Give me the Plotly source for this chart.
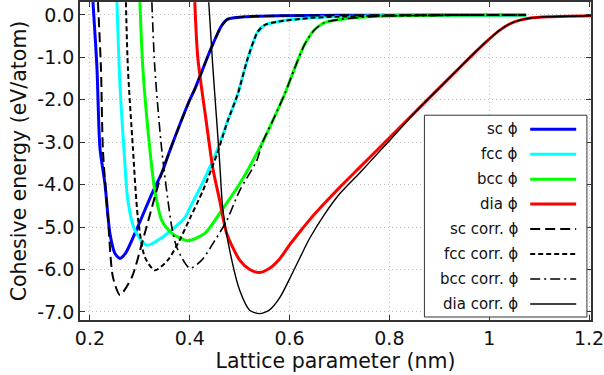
import plotly.graph_objects as go

# ---- cohesive energy curves (lattice parameter in nm, energy in eV/atom) ----
sc_a = [0.206, 0.214, 0.220, 0.230, 0.240, 0.250, 0.260, 0.272, 0.290, 0.324, 0.344, 0.360,
        0.400, 0.410, 0.444, 0.464, 0.476, 0.510, 0.580, 0.700, 0.900, 1.074]
sc_e = [0.30, -1.26, -3.14, -3.98, -5.15, -5.62, -5.74, -5.60, -5.15, -4.22, -3.72, -3.20,
        -2.00, -1.75, -0.75, -0.25, -0.10, -0.045, -0.02, -0.01, -0.005, 0.0]

fcc_a = [0.254, 0.260, 0.268, 0.276, 0.290, 0.314, 0.344, 0.390, 0.400, 0.426, 0.454, 0.476,
         0.496, 0.516, 0.536, 0.550, 0.576, 0.644, 0.700, 0.850, 1.074]
fcc_e = [0.30, -1.64, -3.14, -4.38, -5.08, -5.43, -5.25, -4.78, -4.55, -3.95, -3.21, -2.50,
         -1.87, -1.03, -0.40, -0.24, -0.16, -0.07, -0.04, -0.01, 0.0]

bcc_a = [0.300, 0.306, 0.320, 0.330, 0.344, 0.364, 0.396, 0.430, 0.466, 0.500, 0.546, 0.566,
         0.590, 0.610, 0.630, 0.650, 0.670, 0.704, 0.780, 0.900, 1.074]
bcc_e = [0.30, -1.26, -3.17, -4.14, -4.85, -5.15, -5.32, -5.15, -4.57, -3.98, -3.00, -2.50,
         -1.87, -1.26, -0.70, -0.35, -0.18, -0.10, -0.03, -0.01, 0.0]

dia_a = [0.410, 0.416, 0.434, 0.446, 0.460, 0.474, 0.500, 0.520, 0.540, 0.560, 0.580, 0.600,
         0.620, 0.640, 0.670, 0.700, 0.740, 0.780, 0.820, 0.860, 0.900, 0.940, 0.970,
         1.000, 1.020, 1.040, 1.060, 1.080, 1.120, 1.210]
dia_e = [0.30, -1.00, -2.60, -3.60, -4.38, -5.15, -5.78, -6.00, -6.07, -5.97, -5.75, -5.42,
         -5.12, -4.83, -4.44, -4.07, -3.60, -3.13, -2.66, -2.19, -1.72, -1.25, -0.90,
         -0.57, -0.37, -0.22, -0.13, -0.08, -0.045, -0.02]

# corrected potentials: own short-range part, then the same tail as the plain curve
sc_corr_head_a = [0.216, 0.222, 0.226, 0.236, 0.246, 0.260, 0.284, 0.304, 0.324, 0.344]
sc_corr_head_e = [0.30, -1.26, -3.20, -4.78, -6.18, -6.60, -6.18, -5.39, -4.54, -3.72]

fcc_corr_head_a = [0.272, 0.276, 0.286, 0.296, 0.310, 0.330, 0.356, 0.380, 0.400, 0.426, 0.454]
fcc_corr_head_e = [0.30, -1.26, -3.14, -4.78, -5.71, -6.02, -5.78, -5.30, -4.80, -4.15, -3.30]

bcc_corr_head_a = [0.324, 0.330, 0.344, 0.364, 0.374, 0.400, 0.424, 0.450, 0.474, 0.500, 0.534]
bcc_corr_head_e = [0.30, -1.26, -3.20, -5.00, -5.48, -5.97, -5.78, -5.32, -4.85, -4.14, -3.44]

dia_corr_head_a = [0.438, 0.446, 0.454, 0.460, 0.466, 0.480, 0.500, 0.520, 0.540, 0.560,
                   0.580, 0.600, 0.620, 0.640, 0.670, 0.700, 0.740, 0.780, 0.820]
dia_corr_head_e = [0.30, -1.20, -2.50, -3.50, -4.55, -5.55, -6.49, -6.96, -7.04, -6.95,
                   -6.67, -6.22, -5.74, -5.27, -4.70, -4.22, -3.73, -3.22, -2.71]


def joined(head_a, head_e, base_a, base_e):
    start = head_a[-1]
    tail = [(a, e) for a, e in zip(base_a, base_e) if a > start]
    return head_a + [p[0] for p in tail], head_e + [p[1] for p in tail]


sc_corr_a, sc_corr_e = joined(sc_corr_head_a, sc_corr_head_e, sc_a, sc_e)
fcc_corr_a, fcc_corr_e = joined(fcc_corr_head_a, fcc_corr_head_e, fcc_a, fcc_e)
bcc_corr_a, bcc_corr_e = joined(bcc_corr_head_a, bcc_corr_head_e, bcc_a, bcc_e)
dia_corr_a, dia_corr_e = joined(dia_corr_head_a, dia_corr_head_e, dia_a, dia_e)

series_names = ["sc ϕ", "fcc ϕ", "bcc ϕ", "dia ϕ",
                "sc corr. ϕ", "fcc corr. ϕ", "bcc corr. ϕ", "dia corr. ϕ"]
series_x = [sc_a, fcc_a, bcc_a, dia_a, sc_corr_a, fcc_corr_a, bcc_corr_a, dia_corr_a]
series_y = [sc_e, fcc_e, bcc_e, dia_e, sc_corr_e, fcc_corr_e, bcc_corr_e, dia_corr_e]
line_styles = [
    dict(color="#0000ff", width=3, dash="solid"),
    dict(color="#00ffff", width=3, dash="solid"),
    dict(color="#00ff00", width=3, dash="solid"),
    dict(color="#ff0000", width=3, dash="solid"),
    dict(color="#000000", width=2, dash="10px,5px"),
    dict(color="#000000", width=2, dash="5px,3px"),
    dict(color="#000000", width=1.6, dash="10px,4px,2px,4px"),
    dict(color="#000000", width=1.4, dash="solid"),
]

x_ticks = [0.2, 0.4, 0.6, 0.8, 1.0, 1.2]
x_labels = ["0.2", "0.4", "0.6", "0.8", "1", "1.2"]
y_ticks = [0, -1, -2, -3, -4, -5, -6, -7]
y_labels = ["0.0", "-1.0", "-2.0", "-3.0", "-4.0", "-5.0", "-6.0", "-7.0"]

FONT = "DejaVu Sans"

fig = go.Figure()
for name, xs, ys, st in zip(series_names, series_x, series_y, line_styles):
    fig.add_trace(go.Scatter(
        x=xs, y=ys, mode="lines", name=name, showlegend=False,
        line=dict(color=st["color"], width=st["width"], dash=st["dash"],
                  shape="spline", smoothing=0.7),
        hoverinfo="skip",
    ))

# legend box drawn in paper coordinates: label right-aligned, line sample on the right
box_x0, box_x1, box_y0, box_y1 = 0.674, 0.992, 0.0094, 0.644
fig.add_shape(type="rect", xref="paper", yref="paper",
              x0=box_x0, x1=box_x1, y0=box_y0, y1=box_y1,
              line=dict(color="#333333", width=1), fillcolor="white", layer="above")
row_top, row_step = 0.600, 0.0785
for i, (name, st) in enumerate(zip(series_names, line_styles)):
    yy = row_top - i * row_step
    fig.add_annotation(xref="paper", yref="paper", x=0.861, y=yy, text=name,
                       showarrow=False, xanchor="right", yanchor="middle",
                       font=dict(family=FONT, size=15, color="#111111"))
    fig.add_shape(type="line", xref="paper", yref="paper",
                  x0=0.881, x1=0.971, y0=yy, y1=yy, layer="above",
                  line=dict(color=st["color"], width=st["width"], dash=st["dash"]))

axis_common = dict(
    showline=True, linecolor="#333333", linewidth=1.5, mirror="allticks",
    ticks="inside", ticklen=5, tickcolor="#333333",
    showgrid=True, gridcolor="#bdbdbd", griddash="1px,3px", gridwidth=1,
    zeroline=False, tickfont=dict(family=FONT, size=19, color="#111111"),
    ticklabeloverflow="allow",
)

fig.update_xaxes(range=[0.18, 1.204], tickvals=x_ticks, ticktext=x_labels,
                 title=dict(text="Lattice parameter (nm)", standoff=5,
                            font=dict(family=FONT, size=20.5, color="#111111")),
                 **axis_common)
fig.update_yaxes(range=[-7.19, 0.304], tickvals=y_ticks, ticktext=y_labels,
                 title=dict(text="Cohesive energy (eV/atom)", standoff=5,
                            font=dict(family=FONT, size=20.5, color="#111111")),
                 **axis_common)

fig.update_layout(
    width=604, height=375,
    margin=dict(l=80, r=12, t=0, b=55),
    plot_bgcolor="white", paper_bgcolor="white",
    font=dict(family=FONT),
)

fig.write_html("out.html")
